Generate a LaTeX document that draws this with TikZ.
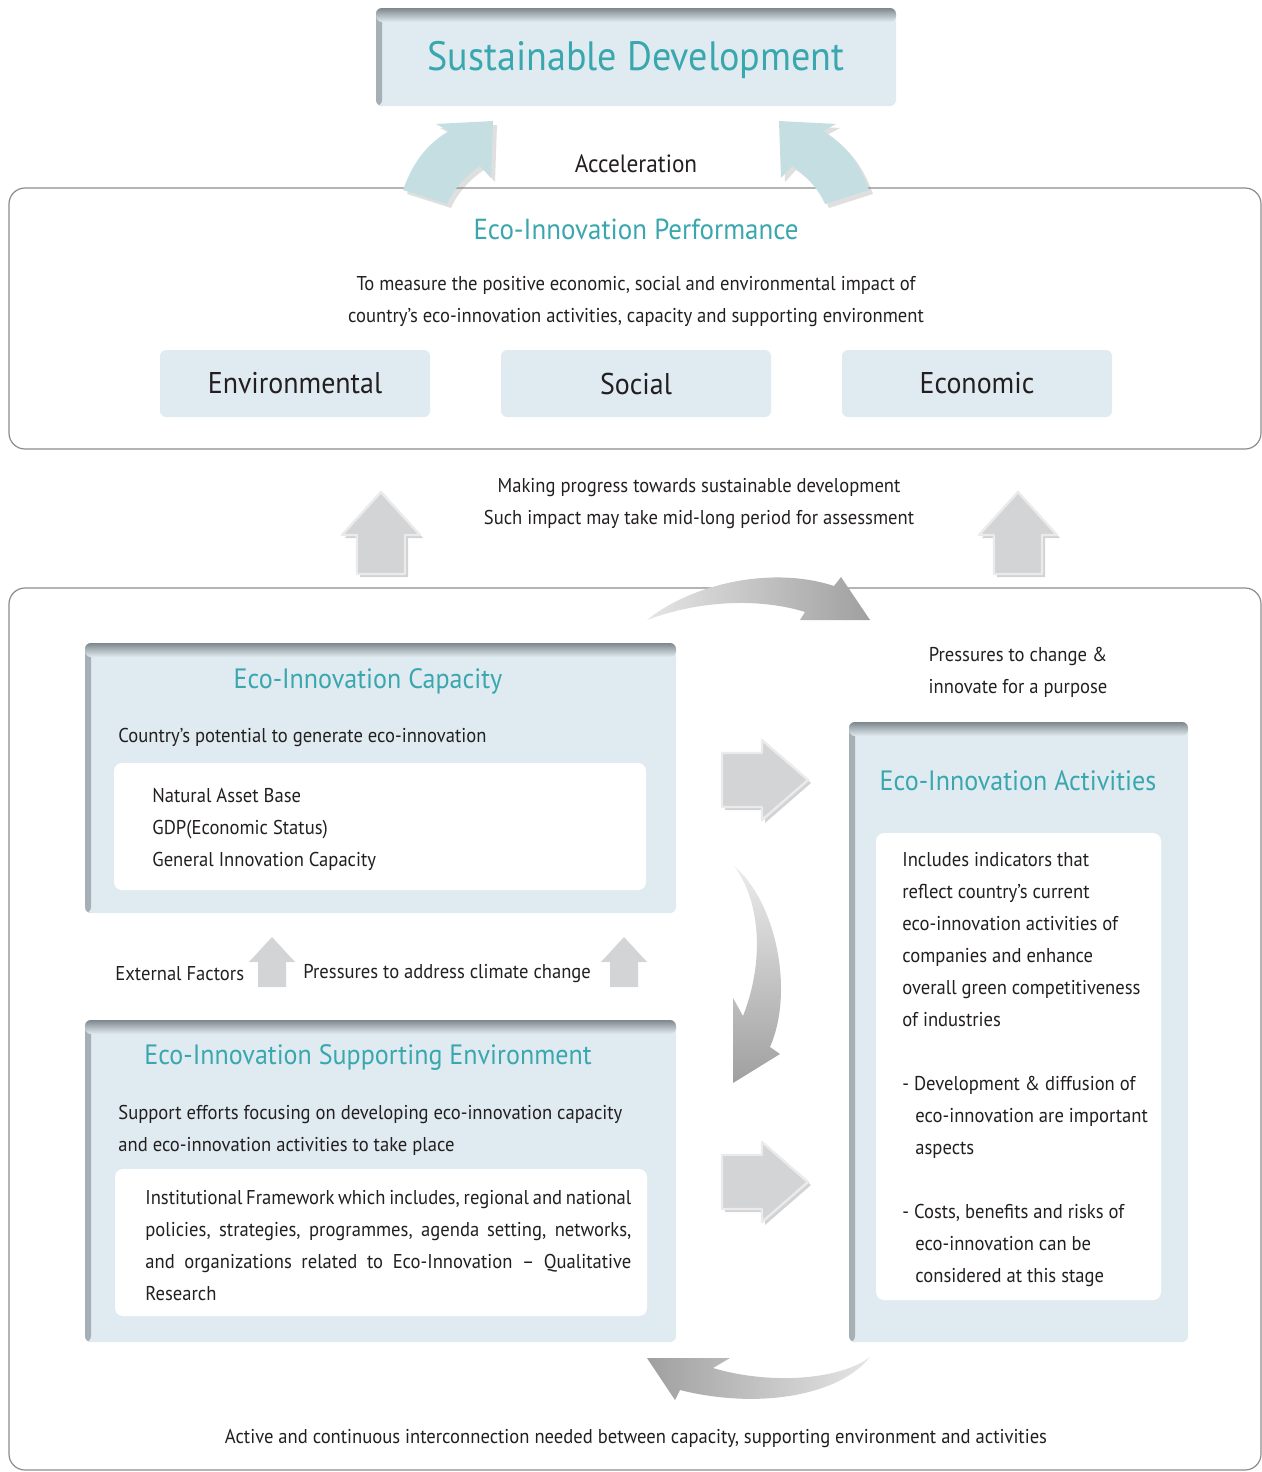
\documentclass[tikz,border=0pt]{standalone}
\usepackage{fontspec}
\setmainfont{PT Sans}[FakeStretch=0.93]
\usetikzlibrary{fit,shadows}

\definecolor{eiteal}{HTML}{3AA7AF}
\definecolor{eiblue}{HTML}{E0EBF1}
\definecolor{eishade}{HTML}{7E878C}
\definecolor{eiarrow}{HTML}{C4DEE1}
\definecolor{eigrey}{HTML}{D3D4D6}
\definecolor{eitext}{HTML}{231F20}
\definecolor{eiline}{HTML}{8C8C8C}

\tikzset{
  panel/.style={draw=eiline, line width=0.6pt, rounded corners=8pt, inner sep=0pt},
  bluebox/.style={fill=eiblue, rounded corners=3pt, inner sep=0pt, path picture={
      \shade[left color=eishade!60!eiblue, right color=eiblue] (path picture bounding box.north west) rectangle ([xshift=3pt]path picture bounding box.south west);
      \shade[top color=eishade, bottom color=eiblue] (path picture bounding box.north west) rectangle ([yshift=-7pt]path picture bounding box.north east);}},
  whitebox/.style={fill=white, rounded corners=4pt, inner sep=0pt},
  tagbox/.style={fill=eiblue, rounded corners=3pt, inner sep=0pt},
  tag/.style={text=eitext, font=\fontsize{15}{18}\selectfont},
  title/.style={text=eiteal, font=\fontsize{14}{16}\selectfont},
  body/.style={text=eitext, font=\fontsize{10}{16}\selectfont, inner sep=0pt},
  blockarr/.style={fill=eigrey, draw=white!92!black, line width=1.2pt, line join=round,
    drop shadow={shadow xshift=1.5pt, shadow yshift=-1.5pt, opacity=0.35}},
  flatarr/.style={fill=eigrey},
  tealarr/.style={fill=eiarrow, drop shadow={shadow xshift=2pt, shadow yshift=-2pt, opacity=0.25}},
}

\begin{document}
\begin{tikzpicture}[x=0.5pt, y=-0.5pt]
\useasboundingbox (0,0) rectangle (1262,1472);

% top goal
\node[bluebox, fit={(376,8) (896,106)}] (sd) {};
\node[text=eiteal, font=\fontsize{20.5}{24}\selectfont] (sdtitle) at (636,60) {Sustainable Development};

% performance panel
\node[panel, fit={(9,188) (1261,449)}] (perf) {};
\fill[tealarr] (403,190) .. controls (412,165) and (425,145) .. (449,131) -- (436,124) -- (493,121)
  -- (491,178) -- (480,166) .. controls (465,176) and (453,190) .. (447,204) -- cycle;
\fill[tealarr] (869,190) .. controls (860,165) and (847,145) .. (823,131) -- (836,124) -- (779,121)
  -- (781,178) -- (792,166) .. controls (807,176) and (819,190) .. (825,204) -- cycle;
\node[text=eitext, font=\fontsize{12.5}{14}\selectfont] (accel) at (636,164) {Acceleration};

\node[title, font=\fontsize{14.5}{17}\selectfont] (perftitle) at (636,229) {Eco-Innovation Performance};
\node[body, align=center] (perfdesc) at (636,302)
  {To measure the positive economic, social and environmental impact of\\
   country’s eco-innovation activities, capacity and supporting environment};
\node[tagbox, fit={(160,350) (430,417)}] (env) {};
\node[tag] (envtext) at (env.center) {Environmental};
\node[tagbox, fit={(501,350) (771,417)}] (soc) {};
\node[tag] (soctext) at (soc.center) {Social};
\node[tagbox, fit={(842,350) (1112,417)}] (eco) {};
\node[tag] (ecotext) at (eco.center) {Economic};

% progress
\node[body, align=center] (progress) at (699,504)
  {Making progress towards sustainable development\\
   Such impact may take mid-long period for assessment};
\foreach \x in {381,1018}
  \draw[blockarr] (\x,492) -- ++(39,43) -- ++(-15,0) -- ++(0,39) -- ++(-48,0) -- ++(0,-39) -- ++(-15,0) -- cycle;

% lower panel
\node[panel, fit={(9,588) (1261,1470)}] (sys) {};

\shade[left color=gray!20, right color=gray!75] (647,620) .. controls (690,585) and (770,565) .. (834,586)
  -- (841,577) -- (870,620) -- (800,620) -- (805,612) .. controls (760,598) and (700,600) .. (647,620) -- cycle;
\shade[top color=gray!15, bottom color=gray!75] (734,866) .. controls (775,900) and (795,990) .. (770,1047)
  -- (780,1054) -- (733,1083) -- (733,998) -- (743,1016) .. controls (765,960) and (760,900) .. (734,866) -- cycle;
\shade[left color=gray!75, right color=gray!20] (870,1357) .. controls (840,1395) and (760,1410) .. (680,1390)
  -- (675,1400) -- (647,1358) -- (730,1358) -- (713,1368) .. controls (770,1385) and (840,1380) .. (870,1357) -- cycle;

% capacity
\node[bluebox, fit={(85,643) (676,913)}] (cap) {};
\node[title] (captitle) at (368,681) {Eco-Innovation Capacity};
\node[body, anchor=west] (capdesc) at (118,737) {Country’s potential to generate eco-innovation};
\node[whitebox, fit={(114,763) (646,890)}] (capwhite) {};
\node[body, align=left, anchor=west] (caplist) at (152,829)
  {Natural Asset Base\\GDP(Economic Status)\\General Innovation Capacity};

% external factors
\node[body, anchor=west] (ext) at (115,974) {External Factors};
\node[body, anchor=west] (press) at (303,974) {Pressures to address climate change};
\foreach \x in {272,624}
  \fill[flatarr] (\x,937) -- ++(23,25) -- ++(-9,0) -- ++(0,25) -- ++(-28,0) -- ++(0,-25) -- ++(-9,0) -- cycle;

% supporting environment
\node[bluebox, fit={(85,1020) (676,1342)}] (suppenv) {};
\node[title] (supptitle) at (368,1057) {Eco-Innovation Supporting Environment};
\node[body, align=left, anchor=west] (suppdesc) at (118,1130)
  {Support efforts focusing on developing eco-innovation capacity\\
   and eco-innovation activities to take place};
\node[whitebox, fit={(115,1169) (647,1316)}] (suppwhite) {};
\node[body, align=justify, text width=243pt, anchor=west] (supptext) at (145,1246)
  {Institutional Framework which includes, regional and national\linebreak
   policies, strategies, programmes, agenda setting, networks,\linebreak
   and organizations related to Eco-Innovation -- Qualitative\linebreak
   Research};

% activities
\node[body, align=center] (pressure) at (1018,672) {Pressures to change \&\\innovate for a purpose};
\foreach \y in {780,1182}
  \draw[blockarr] (808,\y) -- ++(-46,40) -- ++(0,-13) -- ++(-40,0) -- ++(0,-54) -- ++(40,0) -- ++(0,-13) -- cycle;
\node[bluebox, fit={(849,722) (1188,1342)}] (act) {};
\node[title] (acttitle) at (1018,781) {Eco-Innovation Activities};
\node[whitebox, fit={(876,833) (1161,1300)}] (actwhite) {};
\node[body, align=left, anchor=west] (acttext) at (902,1070)
  {Includes indicators that\\
   reflect country’s current\\
   eco-innovation activities of\\
   companies and enhance\\
   overall green competitiveness\\
   of industries\\
   \mbox{}\\
   - Development \& diffusion of\\
   \hspace*{6.5pt}eco-innovation are important\\
   \hspace*{6.5pt}aspects\\
   \mbox{}\\
   - Costs, benefits and risks of\\
   \hspace*{6.5pt}eco-innovation can be\\
   \hspace*{6.5pt}considered at this stage};

\node[body] (loop) at (636,1438)
  {Active and continuous interconnection needed between capacity, supporting environment and activities};

\end{tikzpicture}
\end{document}
